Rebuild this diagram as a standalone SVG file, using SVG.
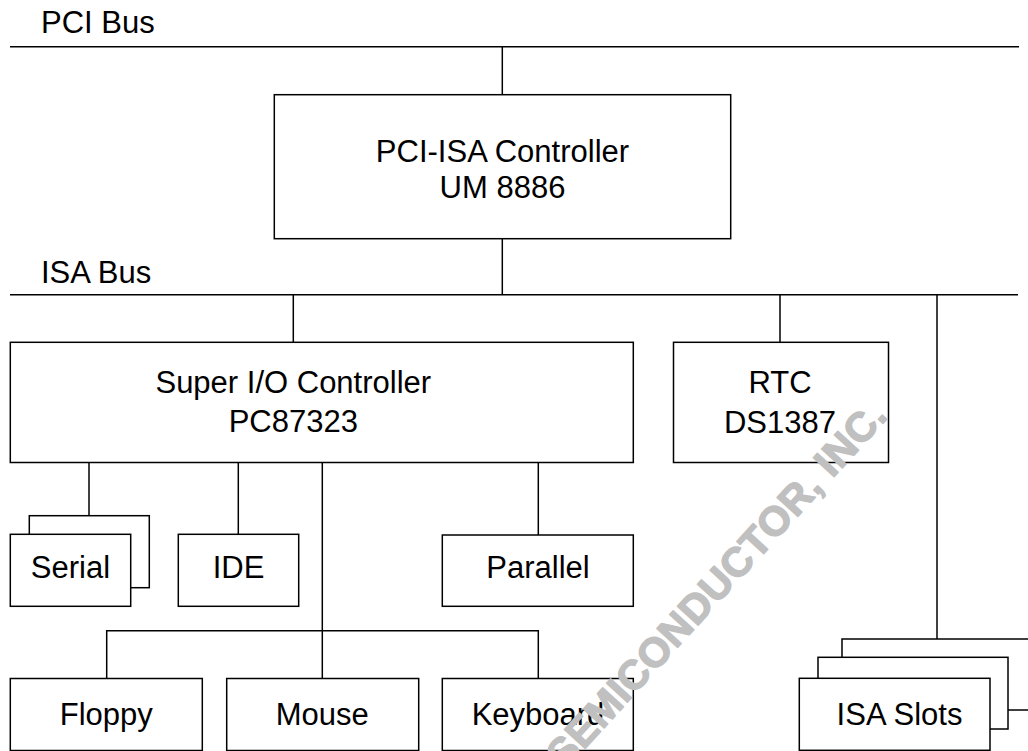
<svg xmlns="http://www.w3.org/2000/svg" width="1028" height="751" viewBox="0 0 1028 751">
<style>
.bx{fill:#fff;stroke:#000;stroke-width:1.5}
.ln{fill:none;stroke:#000;stroke-width:1.5}
.t{font-family:"Liberation Sans",Arial,sans-serif;font-size:31px;fill:#000}
.m{text-anchor:middle}
.wm{font-family:"Liberation Sans",Arial,sans-serif;font-size:41px;font-weight:bold;fill:#c0c0c0;stroke:#c0c0c0;stroke-width:1.4;stroke-linejoin:round}
</style>
<rect width="1028" height="751" fill="#fff"/>
<g id="connectors">
<line class="ln" x1="10" y1="46.7" x2="1019" y2="46.7"/>
<line class="ln" x1="502.3" y1="46.7" x2="502.3" y2="94.7"/>
<line class="ln" x1="502.3" y1="238.7" x2="502.3" y2="294.7"/>
<line class="ln" x1="10" y1="294.7" x2="1018" y2="294.7"/>
<line class="ln" x1="293.3" y1="294.7" x2="293.3" y2="342.3"/>
<line class="ln" x1="780" y1="294.7" x2="780" y2="342.3"/>
<line class="ln" x1="937" y1="294.7" x2="937" y2="639"/>
<line class="ln" x1="89" y1="462.5" x2="89" y2="515.7"/>
<line class="ln" x1="238.3" y1="462.5" x2="238.3" y2="534.3"/>
<line class="ln" x1="538.3" y1="462.5" x2="538.3" y2="535"/>
<line class="ln" x1="322.3" y1="462.5" x2="322.3" y2="678.5"/>
<polyline class="ln" points="106.7,678.5 106.7,630.7 538.3,630.7 538.3,678.5"/>
</g>
<g id="pci-bus-label"><text class="t" x="41" y="33">PCI Bus</text></g>
<g id="isa-bus-label"><text class="t" x="41" y="282.7">ISA Bus</text></g>
<g id="pci-isa">
<rect class="bx" x="274.3" y="94.7" width="456.4" height="144"/>
<text class="t m" x="502.5" y="162">PCI-ISA Controller</text>
<text class="t m" x="502.5" y="198">UM 8886</text>
</g>
<g id="super-io">
<rect class="bx" x="10.3" y="342.3" width="623" height="120.2"/>
<text class="t m" x="293.3" y="393.3">Super I/O Controller</text>
<text class="t m" x="293.3" y="432">PC87323</text>
</g>
<g id="rtc">
<rect class="bx" x="673.5" y="342.3" width="215" height="120.2"/>
<text class="t m" x="780" y="393.3">RTC</text>
<text class="t m" x="780" y="433">DS1387</text>
</g>
<g id="serial">
<rect class="bx" x="29.3" y="515.7" width="120" height="72"/>
<rect class="bx" x="10.3" y="534.3" width="120.4" height="72"/>
<text class="t m" x="70.5" y="578">Serial</text>
</g>
<g id="ide">
<rect class="bx" x="178.3" y="534.3" width="120.4" height="72"/>
<text class="t m" x="238.5" y="578">IDE</text>
</g>
<g id="parallel">
<rect class="bx" x="442.3" y="535" width="191" height="71.3"/>
<text class="t m" x="538" y="578">Parallel</text>
</g>
<g id="floppy">
<rect class="bx" x="10.3" y="678.5" width="192" height="72"/>
<text class="t m" x="106.3" y="725">Floppy</text>
</g>
<g id="mouse">
<rect class="bx" x="226.7" y="678.5" width="192" height="72"/>
<text class="t m" x="322.3" y="725">Mouse</text>
</g>
<g id="keyboard">
<rect class="bx" x="442.3" y="678.5" width="191" height="72"/>
<text class="t m" x="538" y="725">Keyboard</text>
</g>
<g id="isa-slots">
<rect class="bx" x="842" y="639" width="200" height="71"/>
<rect class="bx" x="818" y="657.3" width="190" height="71.7"/>
<rect class="bx" x="799.3" y="678.3" width="190.7" height="72"/>
<text class="t m" x="899.5" y="725">ISA Slots</text>
</g>
<g id="watermark">
<text class="wm" transform="translate(564.5,771) rotate(-47.5)" textLength="480" lengthAdjust="spacing">SEMICONDUCTOR, INC.</text>
</g>
</svg>
